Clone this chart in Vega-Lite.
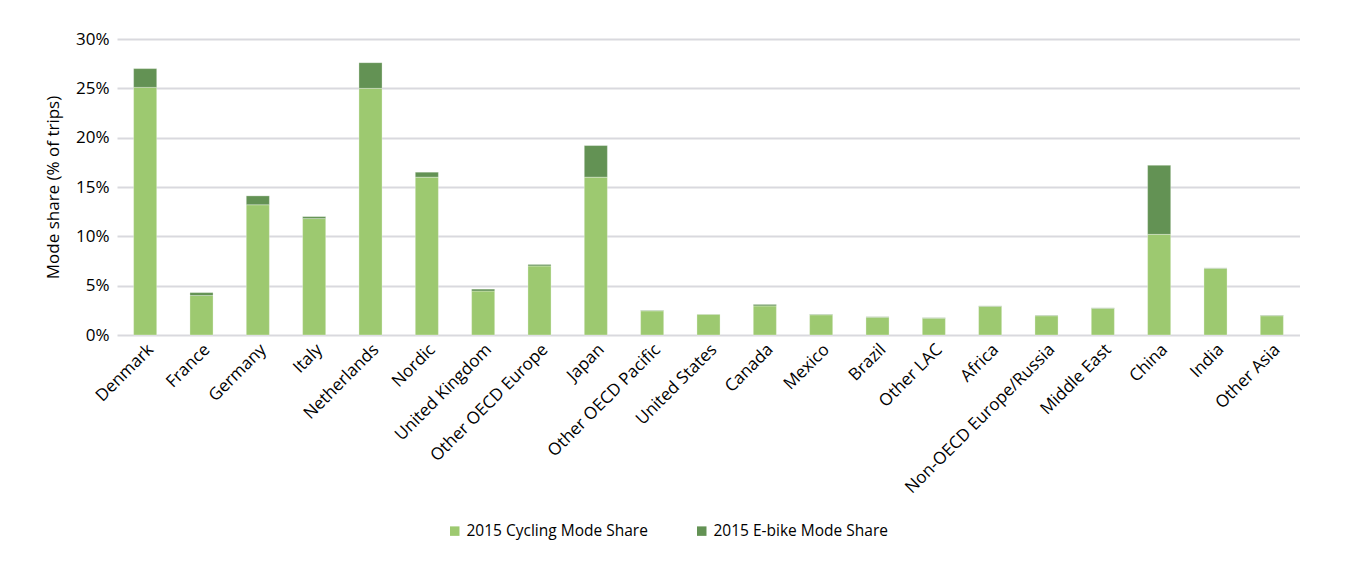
{
  "$schema": "https://vega.github.io/schema/vega-lite/v6.json",
  "width": 1183,
  "height": 296,
  "padding": {"left": 44, "top": 30, "right": 0, "bottom": 0},
  "background": "white",
  "data": {
    "values": [
      {"country": "Denmark", "series": "2015 Cycling Mode Share", "value": 25.1, "ord": 1},
      {"country": "Denmark", "series": "2015 E-bike Mode Share", "value": 1.9, "ord": 2},
      {"country": "France", "series": "2015 Cycling Mode Share", "value": 4.0, "ord": 1},
      {"country": "France", "series": "2015 E-bike Mode Share", "value": 0.3, "ord": 2},
      {"country": "Germany", "series": "2015 Cycling Mode Share", "value": 13.2, "ord": 1},
      {"country": "Germany", "series": "2015 E-bike Mode Share", "value": 0.9, "ord": 2},
      {"country": "Italy", "series": "2015 Cycling Mode Share", "value": 11.8, "ord": 1},
      {"country": "Italy", "series": "2015 E-bike Mode Share", "value": 0.2, "ord": 2},
      {"country": "Netherlands", "series": "2015 Cycling Mode Share", "value": 25.0, "ord": 1},
      {"country": "Netherlands", "series": "2015 E-bike Mode Share", "value": 2.6, "ord": 2},
      {"country": "Nordic", "series": "2015 Cycling Mode Share", "value": 16.0, "ord": 1},
      {"country": "Nordic", "series": "2015 E-bike Mode Share", "value": 0.5, "ord": 2},
      {"country": "United Kingdom", "series": "2015 Cycling Mode Share", "value": 4.45, "ord": 1},
      {"country": "United Kingdom", "series": "2015 E-bike Mode Share", "value": 0.2, "ord": 2},
      {"country": "Other  OECD Europe", "series": "2015 Cycling Mode Share", "value": 7.0, "ord": 1},
      {"country": "Other  OECD Europe", "series": "2015 E-bike Mode Share", "value": 0.15, "ord": 2},
      {"country": "Japan", "series": "2015 Cycling Mode Share", "value": 16.0, "ord": 1},
      {"country": "Japan", "series": "2015 E-bike Mode Share", "value": 3.2, "ord": 2},
      {"country": "Other OECD Pacific", "series": "2015 Cycling Mode Share", "value": 2.45, "ord": 1},
      {"country": "Other OECD Pacific", "series": "2015 E-bike Mode Share", "value": 0.05, "ord": 2},
      {"country": "United States", "series": "2015 Cycling Mode Share", "value": 2.1, "ord": 1},
      {"country": "United States", "series": "2015 E-bike Mode Share", "value": 0.02, "ord": 2},
      {"country": "Canada", "series": "2015 Cycling Mode Share", "value": 2.95, "ord": 1},
      {"country": "Canada", "series": "2015 E-bike Mode Share", "value": 0.15, "ord": 2},
      {"country": "Mexico", "series": "2015 Cycling Mode Share", "value": 2.05, "ord": 1},
      {"country": "Mexico", "series": "2015 E-bike Mode Share", "value": 0.05, "ord": 2},
      {"country": "Brazil", "series": "2015 Cycling Mode Share", "value": 1.8, "ord": 1},
      {"country": "Brazil", "series": "2015 E-bike Mode Share", "value": 0.05, "ord": 2},
      {"country": "Other LAC", "series": "2015 Cycling Mode Share", "value": 1.7, "ord": 1},
      {"country": "Other LAC", "series": "2015 E-bike Mode Share", "value": 0.05, "ord": 2},
      {"country": "Africa", "series": "2015 Cycling Mode Share", "value": 2.9, "ord": 1},
      {"country": "Africa", "series": "2015 E-bike Mode Share", "value": 0.05, "ord": 2},
      {"country": "Non-OECD Europe/Russia", "series": "2015 Cycling Mode Share", "value": 1.95, "ord": 1},
      {"country": "Non-OECD Europe/Russia", "series": "2015 E-bike Mode Share", "value": 0.05, "ord": 2},
      {"country": "Middle East", "series": "2015 Cycling Mode Share", "value": 2.7, "ord": 1},
      {"country": "Middle East", "series": "2015 E-bike Mode Share", "value": 0.05, "ord": 2},
      {"country": "China", "series": "2015 Cycling Mode Share", "value": 10.2, "ord": 1},
      {"country": "China", "series": "2015 E-bike Mode Share", "value": 7.0, "ord": 2},
      {"country": "India", "series": "2015 Cycling Mode Share", "value": 6.75, "ord": 1},
      {"country": "India", "series": "2015 E-bike Mode Share", "value": 0.05, "ord": 2},
      {"country": "Other Asia", "series": "2015 Cycling Mode Share", "value": 1.95, "ord": 1},
      {"country": "Other Asia", "series": "2015 E-bike Mode Share", "value": 0.05, "ord": 2}
    ]
  },
  "mark": {"type": "bar", "stroke": "#ffffff", "strokeWidth": 0.6, "strokeOpacity": 0.5},
  "encoding": {
    "x": {
      "field": "country",
      "type": "nominal",
      "sort": null,
      "scale": {"paddingInner": 0.59, "paddingOuter": 0.295},
      "axis": {
        "title": null,
        "labelAngle": -45,
        "labelFont": "Open Sans",
        "labelFontSize": 17,
        "labelColor": "#000000",
        "labelPadding": 6,
        "ticks": false,
        "domain": false,
        "labelOverlap": false,
        "labelLimit": 400
      }
    },
    "y": {
      "field": "value",
      "type": "quantitative",
      "stack": "zero",
      "scale": {"domain": [0, 30], "nice": false},
      "axis": {
        "title": "Mode share (% of trips)",
        "titleFont": "Open Sans",
        "titleFontSize": 17,
        "titleFontWeight": "normal",
        "titleColor": "#000000",
        "titlePadding": 13,
        "values": [0, 5, 10, 15, 20, 25, 30],
        "labelExpr": "datum.value + '%'",
        "labelFont": "Open Sans",
        "labelFontSize": 17,
        "labelColor": "#000000",
        "labelPadding": 8,
        "ticks": false,
        "domain": false,
        "grid": true,
        "gridColor": "#D9D9DE",
        "gridWidth": 2
      }
    },
    "color": {
      "field": "series",
      "type": "nominal",
      "scale": {
        "domain": ["2015 Cycling Mode Share", "2015 E-bike Mode Share"],
        "range": ["#9DC970", "#639254"]
      },
      "legend": {
        "title": null,
        "orient": "none",
        "legendX": 330,
        "legendY": 484,
        "direction": "horizontal",
        "symbolType": "square",
        "symbolSize": 90,
        "symbolStrokeWidth": 0,
        "labelFont": "Open Sans",
        "labelFontSize": 15.5,
        "labelLimit": 400,
        "labelColor": "#000000",
        "columnPadding": 46
      }
    },
    "order": {"field": "ord", "type": "quantitative"}
  },
  "config": {
    "view": {"stroke": null}
  }
}
